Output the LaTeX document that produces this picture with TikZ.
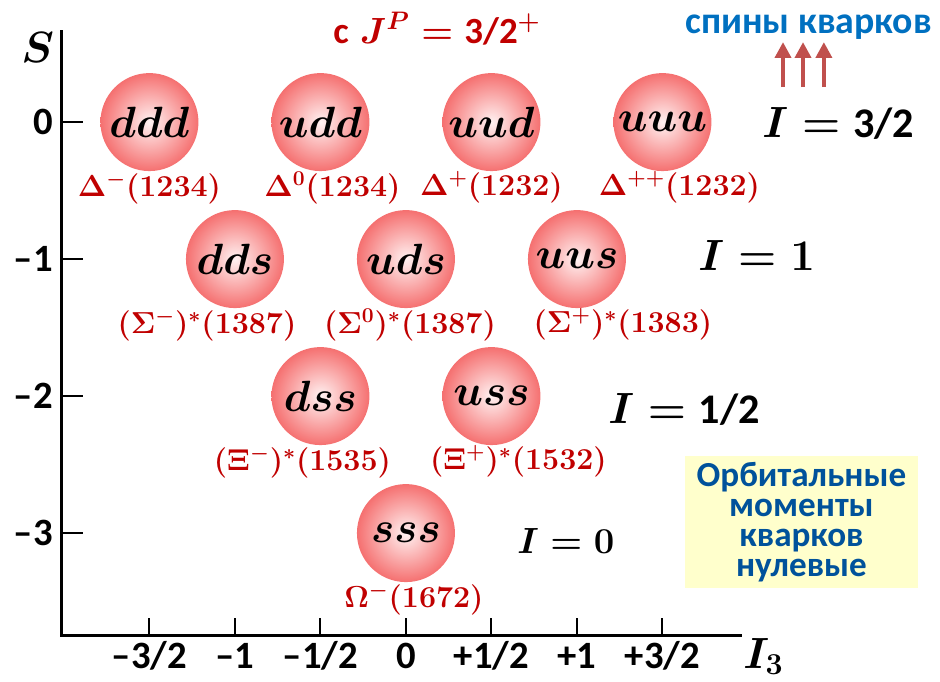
\documentclass[tikz,border=0pt]{standalone}
\usepackage[no-math]{fontspec}
\usepackage{amsmath}
\newfontfamily\calibsans{Carlito}
\definecolor{DecRed}{RGB}{192,0,0}
\definecolor{DecBlue}{RGB}{0,112,192}
\definecolor{DecNavy}{RGB}{0,82,155}
\definecolor{DecPink}{RGB}{245,112,112}
\definecolor{DecCore}{RGB}{255,242,242}
\definecolor{DecSpin}{RGB}{192,80,77}
\definecolor{DecNote}{RGB}{255,255,204}
\usetikzlibrary{arrows.meta, positioning}
\tikzset{
  quark/.style={circle, minimum size=1.96cm, inner sep=0pt, shading=radial,
    inner color=DecCore, outer color=DecPink, font=\fontsize{23}{26}\selectfont\boldmath},
  mass/.style={inner sep=0pt, text=DecRed, font=\fontsize{18}{21}\selectfont\boldmath},
  isospin/.style={inner sep=0pt, anchor=base west, font=\fontsize{24}{28}\selectfont\boldmath},
  ticklabel/.style={inner sep=0pt, font=\fontsize{22}{24}\selectfont\calibsans\bfseries},
  axline/.style={line width=1.8pt, draw=black},
  axtick/.style={line width=1.1pt, draw=black},
  spin/.style={-{Triangle[length=9pt,width=9pt]}, line width=2.3pt, draw=DecSpin},
  note/.style={rectangle, fill=DecNote, text=DecNavy, align=center, inner sep=0pt,
    minimum width=4.66cm, minimum height=2.64cm,
    font=\fontsize{20}{17}\selectfont\calibsans\bfseries}
}
\begin{document}
\begin{tikzpicture}[x=3.42cm, y=2.74cm]
  \useasboundingbox (-2.374,0.891) rectangle (3.123,-4.080);

  % axes
  \coordinate (top) at (-2.012,0.672);
  \coordinate (O) at (-2.012,-3.745);
  \coordinate (end) at (1.965,-3.745);
  \draw[axline] (top) -- (O) -- (end);
  \foreach \s/\lab [count=\k] in {0/0, -1/–1, -2/–2, -3/–3} {
    \draw[axtick] (-2.012,\s) -- (-1.889,\s);
    \node[ticklabel, anchor=east] (sy\k) at (-2.064,\s) {\lab};
  }
  \foreach \i/\lab [count=\k] in {-1.5/{–3/2}, -1/–1, -0.5/{–1/2}, 0/0, 0.5/{+1/2}, 1/+1, 1.5/{+3/2}} {
    \draw[axtick] (\i,-3.745) -- (\i,-3.620);
    \node[ticklabel, anchor=base] (ix\k) at (\i,-3.985) {\lab};
  }
  \node[inner sep=0pt, anchor=base west, font=\fontsize{24}{28}\selectfont\boldmath] (Slab) at (-2.251,0.438) {$S$};
  \node[inner sep=0pt, anchor=base west, font=\fontsize{24}{28}\selectfont\boldmath] (Ilab) at (1.971,-3.985) {$I_3$};

  % S = 0
  \node[quark] (ddd) at (-1.5,0) {$ddd$};
  \node[quark] (udd) at (-0.5,0) {$udd$};
  \node[quark] (uud) at (0.5,0)  {$uud$};
  \node[quark] (uuu) at (1.5,0)  {$uuu$};
  \node[mass, below=0pt of ddd] (mddd) {$\Delta^-(1234)$};
  \node[mass, below=0pt of udd, xshift=0.24cm] (mudd) {$\Delta^0(1234)$};
  \node[mass, below=0pt of uud] (muud) {$\Delta^+(1232)$};
  \node[mass, below=0pt of uuu, xshift=0.34cm] (muuu) {$\Delta^{++}(1232)$};

  % S = -1
  \node[quark] (dds) at (-1,-1) {$dds$};
  \node[quark] (uds) at (0,-1)  {$uds$};
  \node[quark] (uus) at (1,-1)  {$uus$};
  \node[mass, below=0pt of dds, xshift=-0.56cm] (mdds) {$(\Sigma^-)^*(1387)$};
  \node[mass, below=0pt of uds, xshift=0.08cm] (muds) {$(\Sigma^0)^*(1387)$};
  \node[mass, below=0pt of uus, xshift=0.92cm] (muus) {$(\Sigma^+)^*(1383)$};

  % S = -2
  \node[quark] (dss) at (-0.5,-2) {$dss$};
  \node[quark] (uss) at (0.5,-2)  {$uss$};
  \node[mass, below=0pt of dss, xshift=-0.36cm] (mdss) {$(\Xi^-)^*(1535)$};
  \node[mass, below=0pt of uss, xshift=0.54cm] (muss) {$(\Xi^+)^*(1532)$};

  % S = -3
  \node[quark] (sss) at (0,-3) {$sss$};
  \node[mass, below=0pt of sss, xshift=0.16cm] (msss) {$\Omega^-(1672)$};

  % isospin multiplets
  \node[isospin] (i32) at (2.082,-0.109) {$I =$ {\calibsans\bfseries 3/2}};
  \node[isospin] (i1) at (1.708,-1.080) {$I = 1$};
  \node[isospin] (i12) at (1.181,-2.197) {$I =$ {\calibsans\bfseries 1/2}};
  \node[isospin, font=\fontsize{22}{26}\selectfont\boldmath] (i0) at (0.649,-3.146) {$I = 0$};

  % title and spins
  \node[inner sep=0pt, anchor=base west, text=DecRed, font=\fontsize{21}{24}\selectfont\boldmath] (jp)
    at (-0.427,0.577) {{\calibsans\bfseries с} $J^P =$ {\calibsans\bfseries 3/2}$^{+}$};
  \node[inner sep=0pt, anchor=base west, text=DecBlue, font=\fontsize{21.5}{24}\selectfont\calibsans\bfseries] (spins)
    at (1.632,0.650) {спины кварков};
  \coordinate (t1) at (2.205,0.255); \coordinate (h1) at (2.205,0.584);
  \coordinate (t2) at (2.322,0.255); \coordinate (h2) at (2.322,0.584);
  \coordinate (t3) at (2.444,0.255); \coordinate (h3) at (2.444,0.584);
  \draw[spin] (t1) -- (h1);
  \draw[spin] (t2) -- (h2);
  \draw[spin] (t3) -- (h3);

  \node[note] (orb) at (2.313,-2.920) {Орбитальные\\моменты\\кварков\\нулевые};
\end{tikzpicture}
\end{document}
